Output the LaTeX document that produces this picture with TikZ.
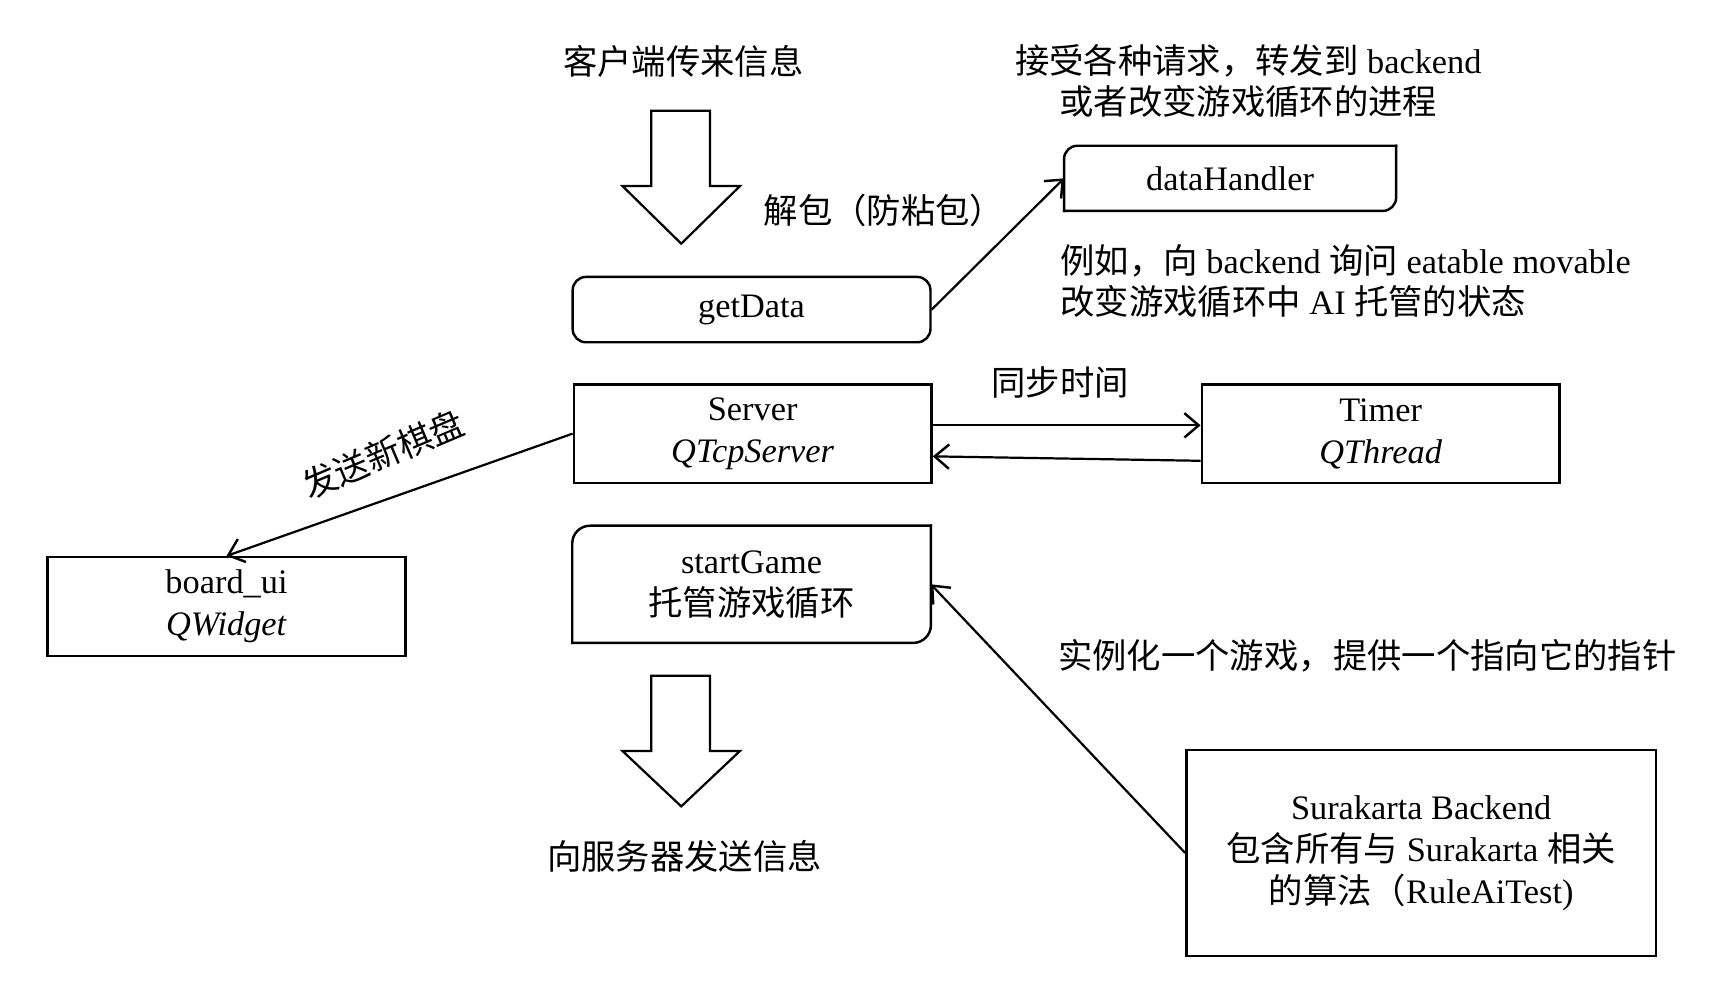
\documentclass[tikz,border=0pt]{standalone}
\usepackage{fontspec}
\setmainfont{Liberation Serif}
\newfontfamily\cjkf{Noto Sans CJK SC}
\newcommand\zh[1]{{\cjkf #1}}
\usetikzlibrary{arrows.meta,calc}
\newcommand\diagoutline[2]{%
  \draw[line width=1.1pt, line cap=rect, rounded corners=#2] (#1.south west) -- (#1.north west) -- (#1.north east);
  \draw[line width=1.1pt, line cap=rect, rounded corners=#2] (#1.north east) -- (#1.south east) -- (#1.south west);}
\begin{document}
\begin{tikzpicture}[x=0.5pt,y=-0.5pt,
  every node/.style={font=\fontsize{15.5}{19}\selectfont, inner sep=0pt},
  sqbox/.style={draw, line width=1.1pt, minimum width=161.5pt, minimum height=44.5pt, align=center},
  plainbox/.style={minimum width=161.5pt, align=center},
  conn/.style={line width=1pt, -{Straight Barb[length=6.5pt,width=11pt,line width=1.1pt]}},
  bigarrow/.style={draw, line width=1pt, fill=white, line join=miter},
  lbl/.style={align=center}
]
\useasboundingbox (0,0) rectangle (1560,897.4);

% big arrows
\draw[bigarrow] (588,100) -- (641,100) -- (641,168) -- (668,168) -- (615,220) -- (562,168) -- (588,168) -- cycle;
\draw[bigarrow] (588,610) -- (641,610) -- (641,678) -- (668,678) -- (615,728) -- (562,678) -- (588,678) -- cycle;

% boxes
\node[draw, line width=1.1pt, rounded corners=6pt, minimum width=161.5pt, minimum height=29.5pt] (getData) at (678.5,279.5) {getData};
\node[minimum width=149.5pt, minimum height=29pt] (dataHandler) at (1110.5,161) {dataHandler};
\diagoutline{dataHandler}{6pt}
\node[sqbox] (Server) at (679.5,391.5) {Server\\\textit{QTcpServer}};
\node[sqbox] (Timer) at (1246.5,391.5) {Timer\\\textit{QThread}};
\node[sqbox] (board) at (204.5,547.5) {board\_ui\\\textit{QWidget}};
\node[plainbox, minimum height=52.5pt] (startGame) at (678.5,527.5) {startGame\\\zh{托管游戏循环}};
\diagoutline{startGame}{8pt}
\node[draw, line width=1.1pt, minimum width=212pt, minimum height=93pt, align=center] (sura) at (1283,770) {Surakarta Backend\\\zh{包含所有与} Surakarta \zh{相关}\\\zh{的算法（}RuleAiTest)};

% labels
\node[lbl] (l1) at (617,55) {\zh{客户端传来信息}};
\node[lbl, font=\fontsize{15.5}{18.5}\selectfont] (l2) at (1127,73) {\zh{接受各种请求，转发到} backend\\\zh{或者改变游戏循环的进程}};
\node[lbl] (l3) at (798,190) {\zh{解包（防粘包）}};
\node[anchor=west, align=left, font=\fontsize{15.5}{18.5}\selectfont] (l4) at (957,253.5) {\zh{例如，向} backend \zh{询问} eatable movable\\\zh{改变游戏循环中} AI \zh{托管的状态}};
\node[lbl] (l5) at (957,345) {\zh{同步时间}};
\node[lbl, rotate=23] (l6) at (346,410) {\zh{发送新棋盘}};
\node[anchor=west] (l7) at (955,592) {\zh{实例化一个游戏，提供一个指向它的指针}};
\node[lbl] (l8) at (618,773) {\zh{向服务器发送信息}};

% connectors
\draw[conn] (getData.east) -- (dataHandler.west);
\draw[conn] ($(Server.east)+(0,-7.5)$) -- ($(Timer.west)+(0,-7.5)$);
\draw[conn] ($(Timer.west)+(0,24.5)$) -- ($(Server.east)+(0,20.5)$);
\draw[conn] (Server.west) -- (board.north);
\draw[conn] (sura.west) -- (startGame.east);
\end{tikzpicture}
\end{document}
